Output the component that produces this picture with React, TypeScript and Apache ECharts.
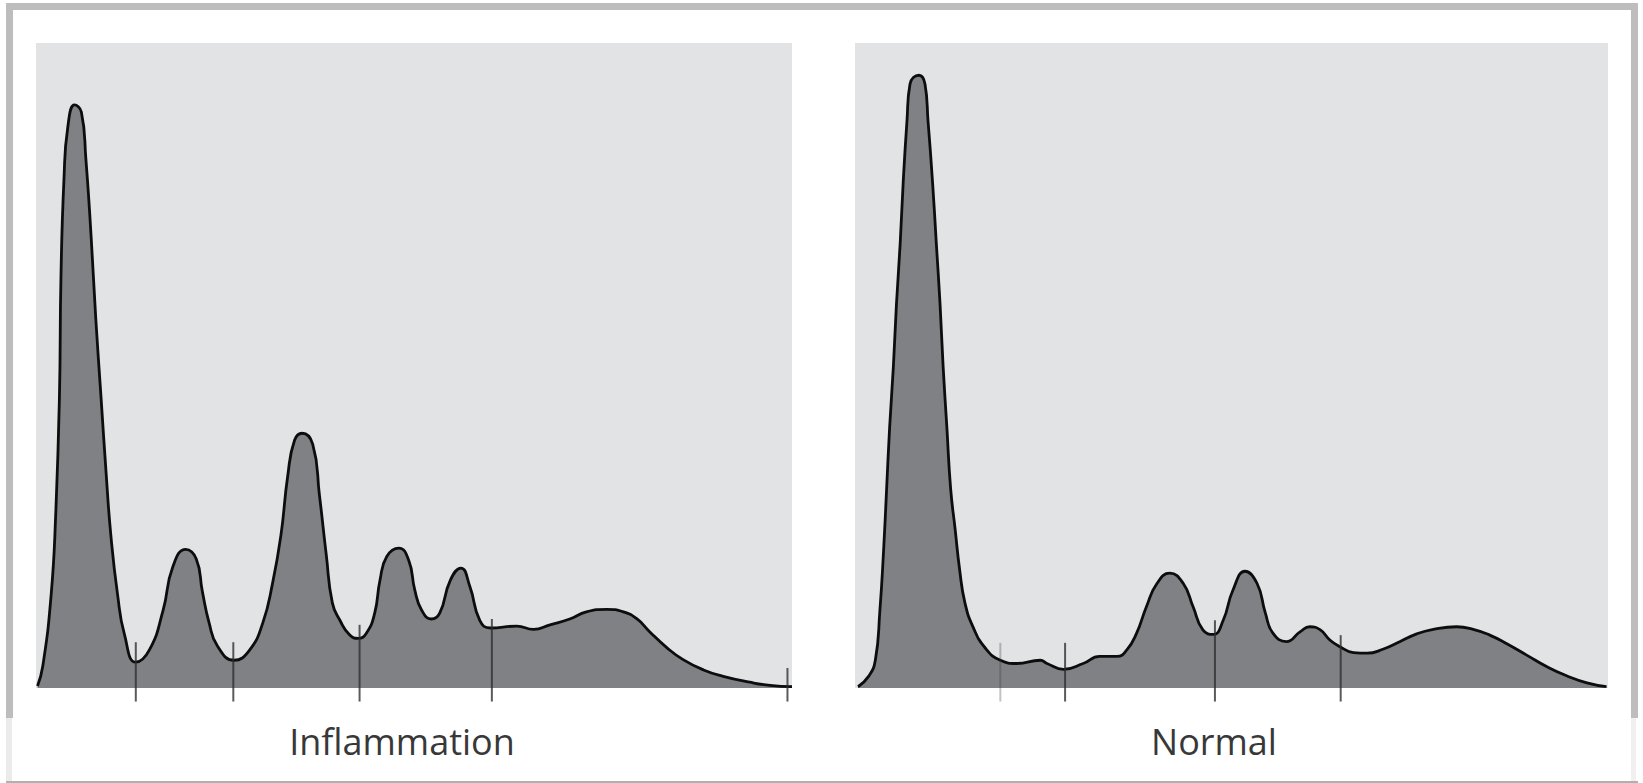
import React, { useEffect, useRef } from "react";
import * as echarts from "echarts";

// Densitometry traces (x: migration distance 0–100, y: relative density 0–100)
const inflammationX = [0.2, 0.9, 2.0, 2.6, 3.1, 3.3, 3.7, 4.2, 5.1, 6.0, 6.6, 7.3, 7.9, 8.6, 9.3, 9.9, 10.8, 11.7, 13.2, 15.0, 16.8, 18.1, 19.8, 21.2, 22.0, 22.9, 24.0, 26.2, 28.2, 30.0, 31.3, 32.4, 33.3, 34.2, 35.2, 36.6, 37.5, 38.4, 39.2, 40.2, 41.5, 42.6, 43.7, 44.8, 45.5, 46.4, 48.0, 49.3, 50.1, 51.0, 52.3, 53.4, 54.8, 56.2, 57.4, 58.7, 60.1, 63.6, 65.8, 68.0, 70.6, 72.8, 75.5, 77.7, 79.5, 81.2, 83.4, 85.6, 88.3, 90.9, 94.4, 97.1, 100];
const inflammationY = [0.3, 3.4, 14.4, 26.7, 45.1, 63.6, 78.9, 86.9, 90.4, 89.3, 82.0, 69.8, 57.4, 45.1, 32.9, 23.7, 14.4, 8.3, 4.0, 5.9, 12.0, 18.8, 21.5, 20.0, 15.0, 10.1, 6.5, 4.3, 5.8, 10.1, 16.3, 23.7, 32.9, 38.4, 39.5, 37.8, 29.8, 20.6, 13.2, 10.5, 8.2, 7.7, 8.5, 11.6, 16.7, 20.4, 21.7, 19.8, 15.2, 12.1, 10.7, 11.6, 16.7, 18.6, 15.7, 10.5, 9.3, 9.6, 9.1, 9.8, 10.7, 11.8, 12.2, 11.8, 10.7, 8.7, 6.3, 4.4, 2.8, 1.8, 0.9, 0.4, 0.2];

const normalX = [0.4, 1.8, 2.7, 3.3, 3.8, 4.2, 4.6, 5.1, 5.5, 6.0, 6.4, 6.9, 7.3, 8.5, 9.3, 9.7, 10.3, 10.8, 11.3, 11.7, 12.2, 12.7, 13.3, 13.9, 14.6, 15.7, 17.3, 19.3, 21.5, 24.6, 25.5, 27.7, 30.3, 32.5, 34.8, 36.1, 37.4, 38.7, 40.1, 41.8, 43.6, 44.9, 46.2, 47.6, 48.9, 50.2, 51.8, 53.4, 54.5, 55.5, 57.3, 59.1, 60.4, 61.8, 63.1, 64.4, 66.2, 68.0, 70.1, 72.4, 74.6, 76.8, 79.9, 82.1, 84.3, 86.5, 89.2, 91.9, 94.5, 97.2, 99.8];
const normalY = [0.2, 1.8, 4.3, 11.9, 21.4, 30.9, 40.4, 49.9, 59.4, 68.9, 78.4, 87.9, 93.6, 95.0, 93.6, 87.9, 78.4, 68.9, 59.4, 49.9, 40.4, 30.9, 24.6, 18.3, 13.2, 9.4, 6.2, 4.3, 3.8, 4.3, 3.8, 2.9, 3.8, 4.9, 4.9, 5.9, 8.5, 12.6, 16.2, 17.8, 16.2, 12.6, 9.0, 8.3, 10.5, 15.2, 18.1, 16.2, 11.6, 8.5, 7.2, 8.7, 9.5, 9.0, 7.4, 6.4, 5.5, 5.4, 6.0, 7.2, 8.4, 9.1, 9.5, 9.1, 8.2, 6.9, 5.1, 3.3, 1.9, 0.8, 0.2];

// Fraction boundaries (tick marks): position and top of each mark
const inflammationTicksX = [13.2, 26.1, 42.8, 60.3, 99.4];
const inflammationTicksTop = [7.1, 7.1, 9.8, 10.7, 3.1];
const normalTicksX = [19.3, 27.9, 47.8, 64.5];
const normalTicksTop = [7.0, 7.0, 10.5, 8.2];
const normalTicksFaint = [true, false, false, false];

const panelLabels = ["Inflammation", "Normal"];

const TICK_BOTTOM = -2.1;

function zip(xs: number[], ys: number[]) {
  return xs.map((x, i) => [x, ys[i]]);
}

export default function App() {
  const ref = useRef<HTMLDivElement>(null);

  useEffect(() => {
    if (!ref.current) return;
    const chart = echarts.init(ref.current, undefined, { renderer: "svg" });

    const tickSeries = (gridIndex: number, xs: number[], tops: number[], faint: boolean[]) => ({
      type: "custom",
      xAxisIndex: gridIndex,
      yAxisIndex: gridIndex,
      clip: false,
      z: 10,
      silent: true,
      data: xs.map((x, i) => [x, tops[i], faint[i] ? 1 : 0]),
      renderItem: (params: any, api: any) => {
        const x = api.value(0);
        const top = api.value(1);
        const f = api.value(2);
        const p1 = api.coord([x, top]);
        const p2 = api.coord([x, TICK_BOTTOM]);
        return {
          type: "line",
          shape: { x1: p1[0], y1: p1[1], x2: p2[0], y2: p2[1] },
          style: {
            stroke: f ? "rgba(55,55,55,0.3)" : "rgba(45,45,45,0.78)",
            lineWidth: 2,
          },
        };
      },
    });

    const curveSeries = (gridIndex: number, data: number[][]) => ({
      type: "line",
      xAxisIndex: gridIndex,
      yAxisIndex: gridIndex,
      data,
      smooth: 0.5,
      symbol: "none",
      z: 5,
      lineStyle: { color: "#0d0d0d", width: 2.8 },
      areaStyle: { color: "#7f8184", opacity: 1 },
    });

    const axisCommon = {
      type: "value",
      min: 0,
      max: 100,
      axisLine: { show: false },
      axisTick: { show: false },
      axisLabel: { show: false },
      splitLine: { show: false },
    };

    const option: any = {
      animation: false,
      backgroundColor: "#ffffff",
      grid: [
        { left: 36, top: 43, width: 756, height: 645, show: true, backgroundColor: "#e2e3e5", borderWidth: 0 },
        { left: 855, top: 43, width: 753, height: 645, show: true, backgroundColor: "#e2e3e5", borderWidth: 0 },
      ],
      xAxis: [
        { ...axisCommon, gridIndex: 0 },
        { ...axisCommon, gridIndex: 1 },
      ],
      yAxis: [
        { ...axisCommon, gridIndex: 0 },
        { ...axisCommon, gridIndex: 1 },
      ],
      series: [
        curveSeries(0, zip(inflammationX, inflammationY)),
        curveSeries(1, zip(normalX, normalY)),
        tickSeries(0, inflammationTicksX, inflammationTicksTop, inflammationTicksX.map(() => false)),
        tickSeries(1, normalTicksX, normalTicksTop, normalTicksFaint),
      ],
      graphic: [
        { type: "rect", shape: { x: 6, y: 3, width: 1632, height: 7 }, style: { fill: "#bdbdbd" }, silent: true },
        { type: "rect", shape: { x: 6, y: 3, width: 7, height: 715 }, style: { fill: "#bdbdbd" }, silent: true },
        { type: "rect", shape: { x: 1631, y: 3, width: 7, height: 715 }, style: { fill: "#bdbdbd" }, silent: true },
        { type: "rect", shape: { x: 6, y: 718, width: 6, height: 63 }, style: { fill: "#ebebeb" }, silent: true },
        { type: "rect", shape: { x: 1631, y: 718, width: 5, height: 63 }, style: { fill: "#f0f0f0" }, silent: true },
        { type: "rect", shape: { x: 6, y: 781, width: 1632, height: 2 }, style: { fill: "#b0b0b0" }, silent: true },
        {
          type: "text",
          x: 402,
          y: 741,
          style: {
            text: panelLabels[0],
            fill: "#383838",
            font: '36px "Open Sans"',
            textAlign: "center",
            textVerticalAlign: "middle",
          },
          silent: true,
        },
        {
          type: "text",
          x: 1214,
          y: 741,
          style: {
            text: panelLabels[1],
            fill: "#383838",
            font: '36px "Open Sans"',
            textAlign: "center",
            textVerticalAlign: "middle",
          },
          silent: true,
        },
      ],
    };

    chart.setOption(option);
    return () => chart.dispose();
  }, []);

  return (
    <div
      ref={ref}
      style={{ position: "absolute", left: 0, top: 0, width: 1643, height: 783 }}
    />
  );
}
